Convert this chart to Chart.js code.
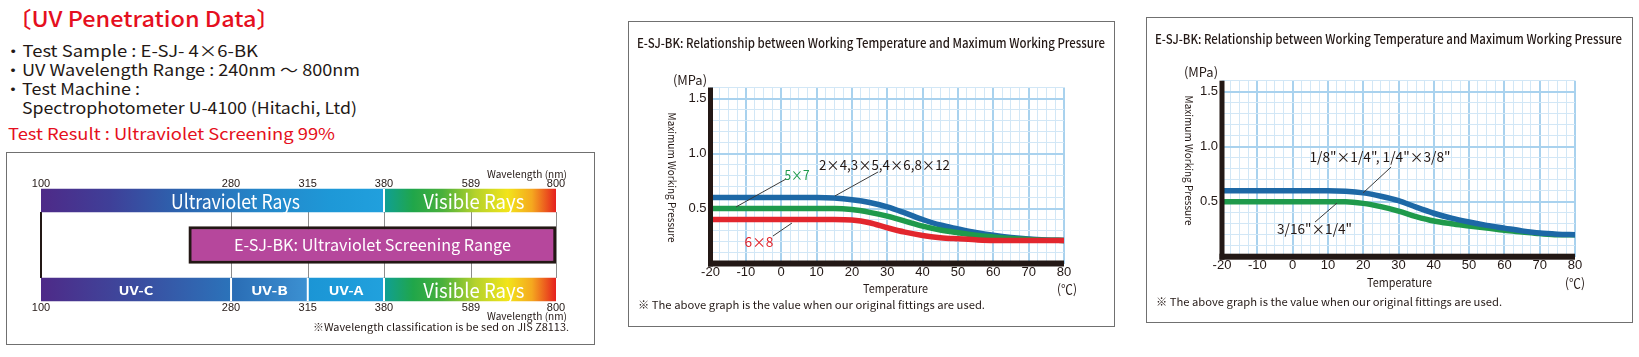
<!DOCTYPE html>
<html><head><meta charset="utf-8"><title>UV Penetration Data</title>
<script src="https://cdn.jsdelivr.net/npm/chart.js@4.4.1/dist/chart.umd.min.js"></script>
<style>
html,body{margin:0;padding:0;background:#fff}
body{position:relative;width:1639px;height:357px;overflow:hidden;font-family:"Noto Sans CJK JP","Noto Sans",sans-serif;color:#231815}
.t,.rt{position:absolute;left:0;top:0;white-space:nowrap;line-height:1;transform-origin:0 0}
.rt{transform-origin:50% 50%}
.box{position:absolute;border:1px solid #707070;box-sizing:border-box}
canvas{position:absolute}
</style></head><body>
<div class="box" style="left:6px;top:152px;width:589px;height:193px"></div>
<div class="box" style="left:628px;top:21px;width:487px;height:306px"></div>
<div class="box" style="left:1146px;top:17px;width:487px;height:306px"></div>
<canvas id="spectrum" width="589" height="193" style="left:6px;top:152px"></canvas>
<canvas id="midChart" width="486" height="305" style="left:628px;top:21px"></canvas>
<canvas id="rightChart" width="486" height="305" style="left:1146px;top:17px"></canvas>

<div class="t" data-x="8" data-cy="17" data-w="272" style="font-size:22px;font-weight:500;color:#e50f20">〔UV Penetration Data〕</div>
<div class="t" data-x="4" data-cy="50" data-w="254" style="font-size:16px">・Test Sample : E-SJ- 4×6-BK</div>
<div class="t" data-x="4" data-cy="69" data-w="356" style="font-size:16px">・UV Wavelength Range : 240nm ～ 800nm</div>
<div class="t" data-x="4" data-cy="88" data-w="136" style="font-size:16px">・Test Machine :</div>
<div class="t" data-x="22" data-cy="107" data-w="335" style="font-size:16px">Spectrophotometer U-4100 (Hitachi, Ltd)</div>
<div class="t" data-x="8" data-cy="133" data-w="327" style="font-size:16px;color:#e50f20">Test Result : Ultraviolet Screening 99%</div>
<div class="t" data-r="567" data-cy="174" data-w="80" style="font-size:10px">Wavelength (nm)</div>
<div class="t" data-r="567" data-cy="316" data-w="80" style="font-size:10px">Wavelength (nm)</div>
<div class="t" data-r="569" data-cy="327" data-w="256" style="font-size:10px">※Wavelength classification is be sed on JIS Z8113.</div>

<div class="t" data-x="637" data-cy="42" data-w="468" style="font-size:13px;font-weight:500">E-SJ-BK: Relationship between Working Temperature and Maximum Working Pressure</div>
<div class="t" data-cx="690" data-cy="79" data-w="34" style="font-size:13px">(MPa)</div>
<div class="rt" data-cx="672" data-cy="177" data-w="130" style="font-size:11px">Maximum Working Pressure</div>
<div class="t" data-cx="895" data-cy="288" data-w="65" style="font-size:12px">Temperature</div>
<div class="t" data-cx="1067" data-cy="288" data-w="20" style="font-size:13px">(℃)</div>
<div class="t" data-x="638" data-cy="304" data-w="347" style="font-size:11px">※ The above graph is the value when our original fittings are used.</div>

<div class="t" data-x="1155" data-cy="38" data-w="467" style="font-size:13px;font-weight:500">E-SJ-BK: Relationship between Working Temperature and Maximum Working Pressure</div>
<div class="t" data-cx="1201" data-cy="71" data-w="34" style="font-size:13px">(MPa)</div>
<div class="rt" data-cx="1189" data-cy="160" data-w="130" style="font-size:11px">Maximum Working Pressure</div>
<div class="t" data-cx="1399" data-cy="282" data-w="65" style="font-size:12px">Temperature</div>
<div class="t" data-cx="1575" data-cy="282" data-w="20" style="font-size:13px">(℃)</div>
<div class="t" data-x="1156" data-cy="301" data-w="346" style="font-size:11px">※ The above graph is the value when our original fittings are used.</div>

<script>
// ---------------- data ----------------
const wavelengthTicks = [100, 280, 315, 380, 589, 800];
const rayNames = ['Ultraviolet Rays', 'Visible Rays'];
const rayRanges = [[100, 380], [380, 800]];
const bandNames = ['UV-C', 'UV-B', 'UV-A', 'Visible Rays'];
const bandRanges = [[100, 280], [280, 315], [315, 380], [380, 800]];
const screeningName = 'E-SJ-BK: Ultraviolet Screening Range';
const screeningRange = [240, 800];
const rowNames = ['Wavelength', 'Screening', 'Classification'];

const temps = [-20,-15,-10,-5,0,5,10,15,20,25,30,35,40,45,50,55,60,65,70,75,80];
const temperatureLabels = [-20,-10,0,10,20,30,40,50,60,70,80];
const pressureLabels = [0.5, 1.0, 1.5];

const midNames = ['6×8', '5×7', '2×4,3×5,4×6,8×12'];
const midRed   = [0.4,0.4,0.4,0.4,0.4,0.4,0.4,0.4,0.395,0.37,0.325,0.285,0.255,0.235,0.224,0.215,0.21,0.21,0.21,0.21,0.21];
const midGreen = [0.5,0.5,0.5,0.5,0.5,0.5,0.5,0.5,0.49,0.465,0.43,0.385,0.34,0.305,0.28,0.258,0.242,0.228,0.218,0.212,0.21];
const midBlue  = [0.6,0.6,0.6,0.6,0.6,0.6,0.6,0.595,0.58,0.555,0.515,0.46,0.40,0.35,0.315,0.282,0.256,0.236,0.222,0.214,0.21];

const rightNames = ['1/8"×1/4", 1/4"×3/8"', '3/16"×1/4"'];
const rightBlue  = [0.6,0.6,0.6,0.6,0.6,0.6,0.6,0.595,0.58,0.55,0.51,0.45,0.395,0.35,0.315,0.285,0.26,0.235,0.215,0.205,0.2];
const rightGreen = [0.5,0.5,0.5,0.5,0.5,0.5,0.5,0.5,0.485,0.455,0.415,0.365,0.325,0.3,0.28,0.26,0.24,0.225,0.21,0.2,0.2];

// ---------------- style ----------------
const INK = '#231815', BLUE = '#1d68a6', GREEN = '#1f9a4b', RED = '#e2262d';
const GRID_MINOR = '#d2e7f6', GRID_MAJOR = '#a9d2ee';
const tickFractions = [0, 0.369, 0.518, 0.666, 0.835, 1];
const uvTopStops = [[100,'#4e2a88'],[165,'#3f3f98'],[232,'#2c64af'],[293,'#2586c9'],[334,'#1e98d7'],[380,'#21a0dd']];
const visibleStops = [[380,'#0f9f96'],[450,'#20a64a'],[520,'#49b03c'],[600,'#b5d22c'],[680,'#f2e41a'],[740,'#f5a81f'],[800,'#e5201e']];
const bandStops = [
  [[100,'#4e2a88'],[190,'#3b4c9f'],[280,'#2b73ba']],
  [[280,'#2a6cb4'],[315,'#3c91d2']],
  [[315,'#1b95d5'],[380,'#21a1dd']],
  visibleStops
];
const rayLabelAnchors = [282, 596];
const bandLabelAnchors = [190, 297.5, 347.5, 596];

// ---------------- text placement ----------------
document.querySelectorAll('.t,.rt').forEach(el => {
  const nat = el.getBoundingClientRect().width, h = el.offsetHeight;
  const w = +el.dataset.w, k = w / nat, cy = +el.dataset.cy;
  if (el.classList.contains('rt')) {
    el.style.left = (+el.dataset.cx - nat / 2) + 'px';
    el.style.top = (cy - h / 2) + 'px';
    el.style.transform = 'rotate(90deg) scaleX(' + k + ')';
    return;
  }
  let left;
  if (el.dataset.x !== undefined) left = +el.dataset.x;
  else if (el.dataset.cx !== undefined) left = +el.dataset.cx - w / 2;
  else left = +el.dataset.r - w;
  el.style.left = left + 'px';
  el.style.top = (cy - h / 2) + 'px';
  el.style.transform = 'scaleX(' + k + ')';
});

function fitText(ctx, text, cx, cy, w, font, color) {
  ctx.save();
  ctx.font = font;
  const m = ctx.measureText(text).width;
  ctx.translate(cx, cy);
  if (w) ctx.scale(w / m, 1);
  ctx.fillStyle = color;
  ctx.textAlign = 'center';
  ctx.textBaseline = 'middle';
  ctx.fillText(text, 0, 0);
  ctx.restore();
}

// ---------------- piecewise wavelength scale ----------------
function wavelengthToDecimal(v) {
  const w = wavelengthTicks, f = tickFractions;
  let i = 0;
  while (i < w.length - 2 && v > w[i + 1]) i++;
  return f[i] + (v - w[i]) / (w[i + 1] - w[i]) * (f[i + 1] - f[i]);
}
function decimalToWavelength(d) {
  const w = wavelengthTicks, f = tickFractions;
  let i = 0;
  while (i < f.length - 2 && d > f[i + 1]) i++;
  return w[i] + (d - f[i]) / (f[i + 1] - f[i]) * (w[i + 1] - w[i]);
}
class PiecewiseScale extends Chart.LinearScale {
  getPixelForValue(value) {
    if (value === null || value === undefined || Number.isNaN(+value)) return NaN;
    return this.getPixelForDecimal(wavelengthToDecimal(+value));
  }
  getValueForPixel(pixel) { return decimalToWavelength(this.getDecimalForPixel(pixel)); }
}
PiecewiseScale.id = 'piecewise';
PiecewiseScale.defaults = Chart.LinearScale.defaults;
Chart.register(PiecewiseScale);

function spectrumGradient(stops, fallback) {
  return c => {
    const chart = c.chart, area = chart.chartArea, xs = chart.scales.x;
    if (!area || !xs) return fallback;
    const g = chart.ctx.createLinearGradient(area.left, 0, area.right, 0);
    for (const [wl, col] of stops) {
      g.addColorStop(Math.min(1, Math.max(0, (xs.getPixelForValue(wl) - area.left) / (area.right - area.left))), col);
    }
    return g;
  };
}

const spectrumDatasets = [];
rayNames.forEach((name, i) => {
  spectrumDatasets.push({
    label: name, data: [rayRanges[i], null, i === 1 ? bandRanges[3] : null],
    backgroundColor: spectrumGradient(i === 0 ? uvTopStops : visibleStops, '#3a6ab0'),
    barThickness: 23, borderWidth: 0
  });
});
spectrumDatasets.push({
  label: screeningName, data: [null, screeningRange, null],
  backgroundColor: '#b6479c', borderColor: INK, borderWidth: 3, barThickness: 37
});
bandNames.slice(0, 3).forEach((name, i) => {
  spectrumDatasets.push({
    label: name, data: [null, null, bandRanges[i]],
    backgroundColor: spectrumGradient(bandStops[i], '#3a6ab0'),
    barThickness: 23, borderWidth: 0
  });
});

const spectrumDecor = {
  id: 'spectrumDecor',
  beforeDatasetsDraw(chart) {
    const ctx = chart.ctx, xs = chart.scales.x;
    const topBar = chart.getDatasetMeta(0).data[0];
    const botBar = chart.getDatasetMeta(3).data[2];
    const y1 = topBar.y + topBar.height / 2, y2 = botBar.y - botBar.height / 2;
    ctx.save();
    wavelengthTicks.forEach((w, i) => {
      const px = Math.round(xs.getPixelForValue(w)) + (i === 0 ? 0 : 0.5);
      ctx.strokeStyle = i === 0 ? INK : '#8c8c8c';
      ctx.lineWidth = i === 0 ? 2 : 1;
      ctx.beginPath(); ctx.moveTo(px, y1); ctx.lineTo(px, y2); ctx.stroke();
    });
    ctx.restore();
  },
  afterDatasetsDraw(chart) {
    const ctx = chart.ctx, xs = chart.scales.x;
    const topBar = chart.getDatasetMeta(0).data[0];
    const botBar = chart.getDatasetMeta(3).data[2];
    ctx.save();
    ctx.strokeStyle = '#ffffff'; ctx.lineWidth = 2;
    const sep = (wl, bar) => {
      const px = xs.getPixelForValue(wl);
      ctx.beginPath(); ctx.moveTo(px, bar.y - bar.height / 2); ctx.lineTo(px, bar.y + bar.height / 2); ctx.stroke();
    };
    sep(rayRanges[1][0], topBar);
    bandRanges.slice(1).forEach(r => sep(r[0], botBar));
    ctx.restore();
    // wavelength tick labels above the upper bar and below the lower bar
    xs.ticks.forEach((t, i) => {
      const px = xs.getPixelForValue(t.value);
      const lbl = String(t.label !== undefined ? t.label : t.value);
      fitText(ctx, lbl, px, topBar.y - topBar.height / 2 - 5, 0, '11px "Liberation Sans"', INK);
      fitText(ctx, lbl, px, botBar.y + botBar.height / 2 + 6.5, 0, '11px "Liberation Sans"', INK);
    });
    const rayW = [129, 101];
    rayNames.forEach((n, i) => fitText(ctx, n, xs.getPixelForValue(rayLabelAnchors[i]), topBar.y + 1, rayW[i], '20px "Noto Sans CJK JP"', '#fff'));
    const scr = chart.getDatasetMeta(2).data[1];
    fitText(ctx, screeningName, (scr.x + scr.base) / 2, scr.y, 277, '16px "Noto Sans CJK JP"', '#fff');
    const bandW = [35, 37, 35, 101];
    const bandFont = ['bold 12px "Noto Sans CJK JP"', 'bold 12px "Noto Sans CJK JP"', 'bold 12px "Noto Sans CJK JP"', '20px "Noto Sans CJK JP"'];
    bandNames.forEach((n, i) => fitText(ctx, n, xs.getPixelForValue(bandLabelAnchors[i]), botBar.y + 1, bandW[i], bandFont[i], '#fff'));
  }
};

new Chart(document.getElementById('spectrum'), {
  type: 'bar',
  data: { labels: rowNames, datasets: spectrumDatasets },
  options: {
    indexAxis: 'y', responsive: false, animation: false, events: [],
    layout: { padding: { left: 35, right: 39, top: 26.25, bottom: 23.25 } },
    plugins: { legend: { display: false }, tooltip: { enabled: false } },
    datasets: { bar: { grouped: false, borderSkipped: false } },
    scales: {
      y: { type: 'category', display: false, offset: true },
      x: {
        type: 'piecewise', position: 'bottom', min: 100, max: 800,
        afterBuildTicks: s => { s.ticks = wavelengthTicks.map(v => ({ value: v })); },
        ticks: { display: false, autoSkip: false, callback: v => String(v) },
        grid: { display: false, drawTicks: false },
        border: { display: false },
        afterFit: s => { s.height = 10; }
      }
    }
  },
  plugins: [spectrumDecor]
});

// ---------------- pressure charts ----------------
const isMajorT = v => Math.abs(v % 10) < 1e-9;
const isMajorP = v => Math.round(v * 10) % 5 === 0;

function axisAndLabelsPlugin(labels) {
  return {
    id: 'axisAndLabels',
    afterDatasetsDraw(chart) {
      const { ctx, scales: { x, y } } = chart;
      const x0 = x.getPixelForValue(x.min), y0 = y.getPixelForValue(0);
      const yTop = y.getPixelForValue(y.max), xEnd = x.getPixelForValue(x.max);
      ctx.save();
      ctx.fillStyle = INK;
      ctx.fillRect(x0 - 2.5, yTop, 5, y0 - yTop + 3);
      ctx.fillRect(x0 - 2.5, y0 - 3, xEnd - x0 + 2.5, 6);
      ctx.strokeStyle = '#3a3a3a'; ctx.lineWidth = 1;
      for (const a of labels) {
        ctx.beginPath();
        ctx.moveTo(x.getPixelForValue(a.line[0]), y.getPixelForValue(a.line[1]));
        ctx.lineTo(x.getPixelForValue(a.line[2]), y.getPixelForValue(a.line[3]));
        ctx.stroke();
        fitText(ctx, a.text, x.getPixelForValue(a.at[0]), y.getPixelForValue(a.at[1]), a.w, '14px "Noto Sans CJK JP"', a.color);
      }
      ctx.restore();
    }
  };
}

function pressureChart(id, series, labels, pad) {
  return new Chart(document.getElementById(id), {
    type: 'line',
    data: {
      datasets: series.map(s => ({
        label: s.name,
        data: s.values.map((v, i) => ({ x: temps[i], y: v })),
        borderColor: s.color, borderWidth: 5.5, pointRadius: 0,
        cubicInterpolationMode: 'monotone', fill: false, borderCapStyle: 'butt'
      }))
    },
    options: {
      responsive: false, animation: false, events: [],
      layout: { padding: pad },
      plugins: { legend: { display: false }, tooltip: { enabled: false } },
      scales: {
        x: {
          type: 'linear', min: -20, max: 80,
          ticks: { stepSize: 2.5, autoSkip: false, maxRotation: 0, padding: 1, color: INK,
            font: { family: 'Liberation Sans', size: 13 },
            callback: v => temperatureLabels.includes(v) ? String(v) : '' },
          grid: { drawTicks: false,
            color: c => (c.tick && isMajorT(c.tick.value)) ? GRID_MAJOR : GRID_MINOR,
            lineWidth: c => (c.tick && isMajorT(c.tick.value)) ? 2 : 1 },
          border: { display: false },
          afterFit: s => { s.height = 20; }
        },
        y: {
          type: 'linear', min: 0, max: 1.6,
          ticks: { stepSize: 0.1, autoSkip: false, padding: 4, color: INK,
            font: { family: 'Liberation Sans', size: 13 },
            callback: v => pressureLabels.includes(Math.round(v * 10) / 10) ? (+v).toFixed(1) : '' },
          grid: { drawTicks: false,
            color: c => (c.tick && isMajorP(c.tick.value)) ? GRID_MAJOR : GRID_MINOR,
            lineWidth: c => (c.tick && isMajorP(c.tick.value)) ? 2 : 1 },
          border: { display: false },
          afterFit: s => { s.width = 30; }
        }
      }
    },
    plugins: [axisAndLabelsPlugin(labels)]
  });
}

const midLabels = [
  { text: midNames[1], color: GREEN, at: [4.47, 0.805], w: 25, line: [1.36, 0.768, -12.79, 0.514] },
  { text: midNames[2], color: INK, at: [29.2, 0.895], w: 131, line: [27.4, 0.832, 15.2, 0.614] },
  { text: midNames[0], color: RED, at: [-6.28, 0.195], w: 29, line: [-2.32, 0.25, 3.05, 0.368] }
];
pressureChart('midChart', [
  { name: midNames[0], values: midRed, color: RED },
  { name: midNames[1], values: midGreen, color: GREEN },
  { name: midNames[2], values: midBlue, color: BLUE }
], midLabels, { left: 52.5, right: 50, top: 66.5, bottom: 42.5 });

const rightLabels = [
  { text: rightNames[0], color: INK, at: [24.76, 0.906], w: 141, line: [27.9, 0.815, 19.94, 0.579] },
  { text: rightNames[1], color: INK, at: [6.2, 0.252], w: 75, line: [6.35, 0.315, 12.58, 0.488] }
];
pressureChart('rightChart', [
  { name: rightNames[0], values: rightBlue, color: BLUE },
  { name: rightNames[1], values: rightGreen, color: GREEN }
], rightLabels, { left: 46, right: 57, top: 63.7, bottom: 45.3 });
</script>
</body></html>
